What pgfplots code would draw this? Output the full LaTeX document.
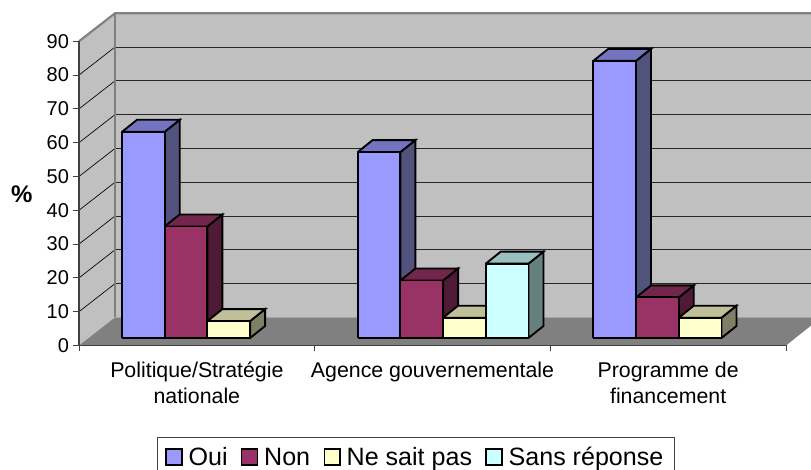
\documentclass[border=0pt]{standalone}
\usepackage{fontspec}
\setmainfont{Liberation Sans}
\usepackage{pgfplots}
\pgfplotsset{compat=1.18}

\definecolor{wall}{HTML}{C0C0C0}
\definecolor{floorc}{HTML}{808080}
\definecolor{ouiF}{HTML}{9999FF}
\definecolor{ouiT}{HTML}{7373BF}
\definecolor{ouiS}{HTML}{52527F}
\definecolor{nonF}{HTML}{993366}
\definecolor{nonT}{HTML}{73264C}
\definecolor{nonS}{HTML}{4F1A35}
\definecolor{nspF}{HTML}{FFFFCC}
\definecolor{nspT}{HTML}{BFBF99}
\definecolor{nspS}{HTML}{7F7F66}
\definecolor{srF}{HTML}{CCFFFF}
\definecolor{srT}{HTML}{99BFBF}
\definecolor{srS}{HTML}{667F7F}

% #1 = category (0,1,2), #2 = slot in group, #3 = value, #4 = colour prefix
\newcommand{\bararea}[4]{%
  \pgfmathsetmacro{\xa}{#1+0.1825+#2*0.1812}%
  \pgfmathsetmacro{\xb}{\xa+0.1812}%
  \pgfmathsetmacro{\xc}{\xb+0.0636}%
  \pgfmathsetmacro{\xd}{\xa+0.0636}%
  \pgfmathsetmacro{\ya}{2.22}%
  \pgfmathsetmacro{\yb}{#3+2.22}%
  \pgfmathsetmacro{\yc}{\yb+3.55}%
  \pgfmathsetmacro{\yd}{\ya+3.55}%
  \addplot[forget plot,barline,fill=#4S] coordinates {(\xb,\ya) (\xc,\yd) (\xc,\yc) (\xb,\yb) (\xb,\ya)};
  \addplot[forget plot,barline,fill=#4T] coordinates {(\xa,\yb) (\xd,\yc) (\xc,\yc) (\xb,\yb) (\xa,\yb)};
  \addplot[forget plot,barline,fill=#4F] coordinates {(\xa,\ya) (\xb,\ya) (\xb,\yb) (\xa,\yb) (\xa,\ya)};
}

\begin{document}
\begin{tikzpicture}
\useasboundingbox (-59.25pt,-93.375pt) rectangle (549pt,259.125pt);
\begin{axis}[
    scale only axis,
    width=549pt,
    height=249.2pt,
    xmin=0, xmax=3.106,
    ymin=0, ymax=98.3,
    clip=false,
    axis line style={draw=none},
    ytick={0,10,...,90},
    xtick={0.5,1.5,2.5},
    xticklabels={Politique/Stratégie\\nationale,Agence gouvernementale,Programme de\\financement},
    minor xtick={0,1,2,3},
    x tick label style={align=center,font=\fontsize{16}{19.5}\selectfont,yshift=-4.5pt},
    y tick label style={font=\fontsize{15}{17}\selectfont,xshift=0.5pt},
    /pgf/number format/assume math mode=true,
    tick align=outside,
    major x tick style={draw=none},
    xtick pos=bottom,
    ytick pos=left,
    tick style={black!75,line width=0.7pt},
    major tick length=4.5pt,
    minor tick length=4.5pt,
    ylabel={\textbf{\%}},
    ylabel style={rotate=-90,font=\fontsize{18}{20}\selectfont,at={(axis description cs:-0.078,0.455)},anchor=center},
    legend columns=4,
    legend style={
        at={(axis cs:0.331,0)},anchor=north west,
        yshift=-68.6pt,
        draw=black!75,line width=0.7pt,
        font=\fontsize{18.8}{20}\selectfont,
        inner xsep=6pt,inner ysep=5pt,
        /tikz/every even column/.append style={column sep=8pt},
    },
    barline/.style={draw=black,line width=1.4pt,line join=miter},
]

% walls and floor
\addplot[forget plot,draw=none,fill=wall] coordinates {(0,0) (0,90) (0.1528,98.3) (0.1528,8.3) (0,0)};
\addplot[forget plot,draw=none,fill=wall] coordinates {(0.1528,8.3) (0.1528,98.3) (3.106,98.3) (3.106,8.3) (0.1528,8.3)};
\addplot[forget plot,draw=none,fill=floorc] coordinates {(0,0) (3,0) (3.106,5.9) (3.106,8.3) (0.1528,8.3) (0,0)};

% gridlines, side wall then back wall
\addplot[forget plot,black,line width=0.5pt] coordinates {(0,10) (0.1528,18.3)};
\addplot[forget plot,black,line width=0.5pt] coordinates {(0,20) (0.1528,28.3)};
\addplot[forget plot,black,line width=0.5pt] coordinates {(0,30) (0.1528,38.3)};
\addplot[forget plot,black,line width=0.5pt] coordinates {(0,40) (0.1528,48.3)};
\addplot[forget plot,black,line width=0.5pt] coordinates {(0,50) (0.1528,58.3)};
\addplot[forget plot,black,line width=0.5pt] coordinates {(0,60) (0.1528,68.3)};
\addplot[forget plot,black,line width=0.5pt] coordinates {(0,70) (0.1528,78.3)};
\addplot[forget plot,black,line width=0.5pt] coordinates {(0,80) (0.1528,88.3)};
\addplot[forget plot,black!85,line width=0.75pt] coordinates {(0.1528,18.3) (3.106,18.3)};
\addplot[forget plot,black!85,line width=0.75pt] coordinates {(0.1528,28.3) (3.106,28.3)};
\addplot[forget plot,black!85,line width=0.75pt] coordinates {(0.1528,38.3) (3.106,38.3)};
\addplot[forget plot,black!85,line width=0.75pt] coordinates {(0.1528,48.3) (3.106,48.3)};
\addplot[forget plot,black!85,line width=0.75pt] coordinates {(0.1528,58.3) (3.106,58.3)};
\addplot[forget plot,black!85,line width=0.75pt] coordinates {(0.1528,68.3) (3.106,68.3)};
\addplot[forget plot,black!85,line width=0.75pt] coordinates {(0.1528,78.3) (3.106,78.3)};
\addplot[forget plot,black!85,line width=0.75pt] coordinates {(0.1528,88.3) (3.106,88.3)};

% wall edges
\addplot[forget plot,floorc,line width=1.6pt] coordinates {(0,90) (0.1528,98.3) (3.106,98.3)};
\addplot[forget plot,floorc,line width=1.6pt] coordinates {(0.1528,98.3) (0.1528,8.3)};
\addplot[forget plot,black!75,line width=1pt] coordinates {(0,90) (0,0) (3,0)};

% bars
\bararea{0}{0}{61}{oui}
\bararea{0}{1}{33}{non}
\bararea{0}{2}{5}{nsp}
\bararea{1}{0}{55}{oui}
\bararea{1}{1}{17}{non}
\bararea{1}{2}{6}{nsp}
\bararea{1}{3}{22}{sr}
\bararea{2}{0}{82}{oui}
\bararea{2}{1}{12}{non}
\bararea{2}{2}{6}{nsp}

\pgfplotsset{
  legend square/.style={legend image code/.code={
    \draw[fill=#1,draw=black,line width=1.1pt] (0pt,-5.8pt) rectangle (11.8pt,6pt);}}
}
\addlegendimage{legend square=ouiF}
\addlegendimage{legend square=nonF}
\addlegendimage{legend square=nspF}
\addlegendimage{legend square=srF}
\legend{\hspace*{2.5pt}\strut Oui,\hspace*{2.5pt}\strut Non,\hspace*{2.5pt}\strut Ne sait pas,\hspace*{2.5pt}\strut Sans réponse}
\end{axis}
\end{tikzpicture}
\end{document}
